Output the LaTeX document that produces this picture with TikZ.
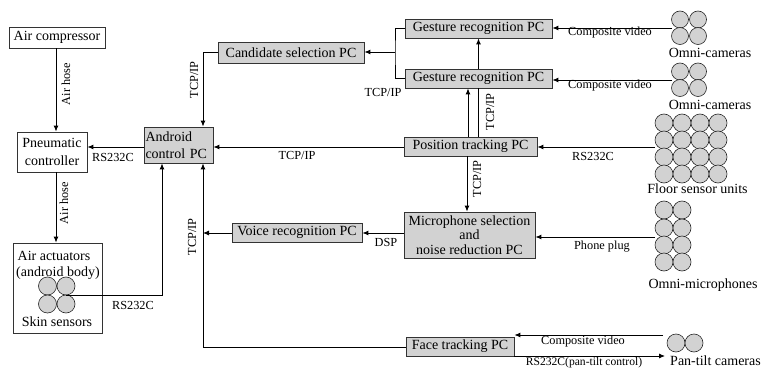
\documentclass[tikz,border=0pt]{standalone}
\usepackage{fontspec}
\setmainfont{Liberation Serif}
\usetikzlibrary{arrows.meta}
\begin{document}
\begin{tikzpicture}[x=1pt,y=-1pt,
  box/.style={draw=black!80, line width=0.8pt, inner sep=0pt, font=\fontsize{14}{15}\selectfont},
  pc/.style={box, fill=gray!35},
  lab/.style={font=\fontsize{12.3}{13}\selectfont, inner sep=0pt},
  dev/.style={font=\fontsize{14}{15}\selectfont, inner sep=0pt},
  conn/.style={line width=0.9pt},
  arr/.style={conn, -{Latex[length=6pt,width=5pt]}},
  sens/.style={circle, draw=black!85, fill=gray!35, line width=0.6pt, minimum size=18pt, inner sep=0pt}
]
\useasboundingbox (0,0) rectangle (763,369);

% ---- boxes ----
\node[box, minimum width=96pt, minimum height=21pt] (comp) at (57,37.5) {Air compressor};
\node[box, minimum width=70pt, minimum height=40pt, align=center, font=\fontsize{14}{17.5}\selectfont] (pneu) at (52,152) {Pneumatic\\controller};
\node[box, minimum width=89pt, minimum height=90pt] (act) at (57.5,288) {};
\node[dev] (actt1) at (54,256) {Air actuators};
\node[dev] (actt2) at (58,273) {(android body)};
\node[dev] (skin) at (57,322) {Skin sensors};
\node[sens] (s1) at (47.5,286) {};
\node[sens] (s2) at (66,286) {};
\node[sens] (s3) at (47.5,304) {};
\node[sens] (s4) at (66,304) {};

\node[pc, minimum height=36pt, text width=66pt, align=left, inner xsep=1.5pt, font=\fontsize{14}{17.5}\selectfont] (android) at (178.5,145) {Android\\control PC};
\node[pc, minimum width=146pt, minimum height=21pt] (cand) at (291,52.5) {Candidate selection PC};
\node[pc, minimum width=147pt, minimum height=19pt] (g1) at (478.5,28.5) {Gesture recognition PC};
\node[pc, minimum width=147pt, minimum height=19pt] (g2) at (478.5,78.5) {Gesture recognition PC};
\node[pc, minimum width=133pt, minimum height=19pt] (pos) at (470.5,146.5) {Position tracking PC};
\node[pc, minimum width=131pt, minimum height=46pt, align=center, font=\fontsize{14}{14.5}\selectfont] (mic) at (469.5,235) {Microphone selection\\and\\noise reduction PC};
\node[pc, minimum width=130pt, minimum height=19pt] (voice) at (297,232.5) {Voice recognition PC};
\node[pc, minimum width=108pt, minimum height=19pt] (face) at (460,346.5) {Face tracking PC};

% ---- sensors on the right ----
\foreach \i/\x/\y in {1/680/19.5,2/698/19.5,3/680/36,4/698/36}
  \node[sens, minimum size=17pt] (oca\i) at (\x,\y) {};
\foreach \i/\x/\y in {1/680/71.5,2/698/71.5,3/680/88,4/698/88}
  \node[sens, minimum size=17pt] (ocb\i) at (\x,\y) {};
\foreach \r/\y in {1/123,2/140,3/157,4/174}
  \foreach \c/\x in {1/664,2/682,3/700,4/718}
    \node[sens] (fl\r\c) at (\x,\y) {};
\foreach \r/\y in {1/210,2/228,3/245,4/262}
  \foreach \c/\x in {1/664,2/682}
    \node[sens] (om\r\c) at (\x,\y) {};
\node[sens] (pt1) at (676,343) {};
\node[sens] (pt2) at (694,343) {};

\node[dev] (ocl1) at (710,53) {Omni-cameras};
\node[dev] (ocl2) at (710,105) {Omni-cameras};
\node[dev] (fll) at (697.5,189) {Floor sensor units};
\node[dev] (oml) at (703,285) {Omni-microphones};
\node[dev] (ptl) at (715.5,361) {Pan-tilt cameras};

% ---- helper coordinates ----
\coordinate (hx) at (56,0);
\coordinate (tx) at (203,0);
\coordinate (br) at (395,52);
\coordinate (px) at (468,0);
\coordinate (mx) at (467,0);
\coordinate (y147) at (0,147);
\coordinate (y233) at (0,233);
\coordinate (y347) at (0,347);
\coordinate (skinout) at (66,295);
\coordinate (rsup) at (162,295);
\coordinate (oc1) at (672,28);
\coordinate (oc2) at (672,80);
\coordinate (flin) at (655,147);
\coordinate (mpin) at (655,237);
\coordinate (ptv) at (663,335);
\coordinate (ptc) at (665,356);

% ---- connectors ----
\draw[arr] (comp.south -| hx) -- (pneu.north -| hx);
\draw[arr] (pneu.south -| hx) -- (act.north -| hx);
\draw[arr] (android.west |- y147) -- (pneu.east |- y147);
\draw[arr] (cand.west) -| (android.north -| tx);
\draw[conn] (g1.west) -| (br) |- (g2.west);
\draw[arr] (br) -- (br -| cand.east);
\draw[arr] (pos.north -| px) -- (g2.south -| px);
\draw[conn] (pos.north -| g2.south) -- (g2.south);
\draw[arr] (g2.north) -- (g1.south);
\draw[arr] (pos.south -| mx) -- (mic.north -| mx);
\draw[arr] (pos.west |- y147) -- (android.east |- y147);
\draw[arr] (mic.west |- y233) -- (voice.east |- y233);
\draw[arr] (voice.west |- y233) -- (tx |- y233);
\draw[arr] (face.west |- y347) -| (android.south -| tx);
\draw[arr] (skinout) -- (rsup) -- (rsup |- android.south);
\draw[arr] (oc1) -- (oc1 -| g1.east);
\draw[arr] (oc2) -- (oc2 -| g2.east);
\draw[arr] (flin) -- (flin -| pos.east);
\draw[arr] (mpin) -- (mpin -| mic.east);
\draw[arr] (ptv) -- (ptv -| face.east);
\draw[arr] (ptc -| face.east) -- (ptc);

% ---- labels ----
\node[lab, rotate=90] (l1) at (66,84) {Air hose};
\node[lab, rotate=90] (l2) at (64,203) {Air hose};
\node[lab] (l3) at (113,157) {RS232C};
\node[lab, rotate=90] (l4) at (194,80) {TCP/IP};
\node[lab] (l5) at (383,92) {TCP/IP};
\node[lab] (l6) at (297,155) {TCP/IP};
\node[lab, rotate=90] (l7) at (490,112) {TCP/IP};
\node[lab, rotate=90] (l8) at (477,179) {TCP/IP};
\node[lab, rotate=90] (l9) at (192,237) {TCP/IP};
\node[lab] (l10) at (386,242) {DSP};
\node[lab] (l11) at (133,305) {RS232C};
\node[lab] (l12) at (610,33) {Composite video};
\node[lab] (l13) at (610,86) {Composite video};
\node[lab] (l14) at (593,156) {RS232C};
\node[lab] (l15) at (602,247) {Phone plug};
\node[lab] (l16) at (583,342) {Composite video};
\node[lab, font=\fontsize{11.6}{12}\selectfont] (l17) at (584,363) {RS232C(pan-tilt control)};
\end{tikzpicture}
\end{document}
